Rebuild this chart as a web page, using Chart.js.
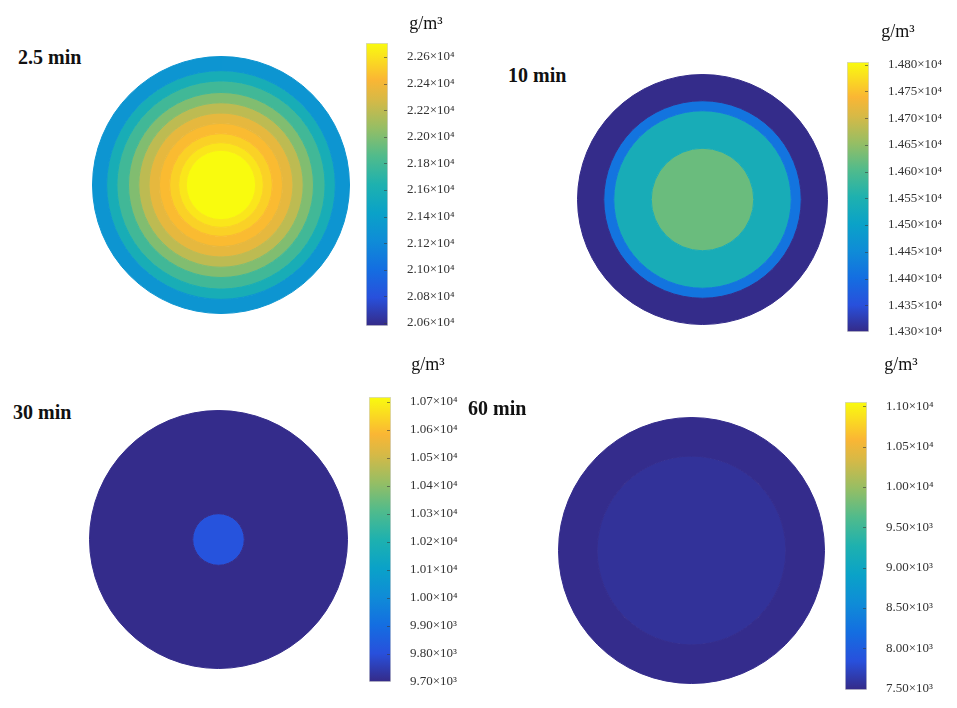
<!DOCTYPE html>
<html>
<head>
<meta charset="utf-8">
<script src="https://cdn.jsdelivr.net/npm/chart.js@4.4.0/dist/chart.umd.min.js"></script>
<style>
  body { margin: 0; background: #fff; }
  #wrap { position: relative; width: 957px; height: 708px; overflow: hidden; background: #fff; }
  #wrap canvas { position: absolute; }
  .lbl { position: absolute; font: bold 20px "Liberation Serif", "Times New Roman", serif; color: #111; line-height: 20px; white-space: nowrap; }
</style>
</head>
<body>
<div id="wrap"></div>
<script>
// ---- data ----
const timeLabels = ['2.5 min', '10 min', '30 min', '60 min'];
const unitLabel = 'g/m³';

// ring outer radius as fraction of disk radius (outer -> inner) and its concentration (g/m3)
const radii1 = [1.00, 0.89, 0.81, 0.72, 0.64, 0.56, 0.48, 0.40, 0.33, 0.27];
const conc1  = [21301, 21578, 21790, 22003, 22195, 22343, 22450, 22535, 22620, 22705];
const ticks1 = [20600, 20800, 21000, 21200, 21400, 21600, 21800, 22000, 22200, 22400, 22600];
const range1 = [20578, 22705];

const radii2 = [1.00, 0.79, 0.71, 0.41];
const conc2  = [14302, 14411, 14537, 14622];
const ticks2 = [14300, 14350, 14400, 14450, 14500, 14550, 14600, 14650, 14700, 14750, 14800];
const range2 = [14300, 14805];

const radii3 = [1.00, 0.20];
const conc3  = [9705, 9812];
const ticks3 = [9700, 9800, 9900, 10000, 10100, 10200, 10300, 10400, 10500, 10600, 10700];
const range3 = [9700, 10718];

const radii4 = [1.00, 0.71];
const conc4  = [7500, 7555];
const ticks4 = [7500, 8000, 8500, 9000, 9500, 10000, 10500, 11000];
const range4 = [7480, 11055];

// ---- layout (pixels) ----
const panels = [
  { radii: radii1, conc: conc1, ticks: ticks1, range: range1, dec: 2,
    disk: [92, 56, 258], bar: { x: 366, top: 43, bottom: 326, right: 486, titleTop: 13 }, label: [18, 57] },
  { radii: radii2, conc: conc2, ticks: ticks2, range: range2, dec: 3,
    disk: [577, 74, 251], bar: { x: 847, top: 62, bottom: 332, right: 949, titleTop: 21 }, label: [508, 75] },
  { radii: radii3, conc: conc3, ticks: ticks3, range: range3, dec: 2,
    disk: [89, 410, 259], bar: { x: 369, top: 397, bottom: 682, right: 487, titleTop: 354 }, label: [13, 412] },
  { radii: radii4, conc: conc4, ticks: ticks4, range: range4, dec: 2,
    disk: [558, 417, 267], bar: { x: 845, top: 402, bottom: 690, right: 957, titleTop: 354 }, label: [468, 408] }
];
const barWidth = 22;

// parula-like colormap
const parula = [
  [0.00, 53, 42, 135],
  [0.10, 40, 80, 220],
  [0.20, 20, 110, 225],
  [0.30, 15, 140, 215],
  [0.40, 10, 162, 200],
  [0.50, 30, 177, 175],
  [0.60, 80, 187, 140],
  [0.70, 150, 190, 100],
  [0.80, 215, 185, 70],
  [0.87, 250, 182, 52],
  [0.95, 250, 225, 30],
  [1.00, 249, 251, 14]
];
const rgb = (s) => 'rgb(' + s[1] + ',' + s[2] + ',' + s[3] + ')';
function colorAt(t) {
  t = Math.max(0, Math.min(1, t));
  for (let i = 1; i < parula.length; i++) {
    if (t <= parula[i][0]) {
      const a = parula[i - 1], b = parula[i];
      const f = (t - a[0]) / (b[0] - a[0]);
      const c = [0, 1, 2].map(k => Math.round(a[k + 1] + f * (b[k + 1] - a[k + 1])));
      return 'rgb(' + c.join(',') + ')';
    }
  }
  return rgb(parula[parula.length - 1]);
}

const sup = { 3: '³', 4: '⁴' };
function sci(v, dec) {
  const e = Math.floor(Math.log10(v) + 1e-9);
  return (v / Math.pow(10, e)).toFixed(dec) + '×10' + sup[e];
}

const serif = '"Liberation Serif", "Times New Roman", serif';
const wrap = document.getElementById('wrap');

function addCanvas(left, top, w, h) {
  const c = document.createElement('canvas');
  c.width = w; c.height = h;
  c.style.left = left + 'px'; c.style.top = top + 'px';
  c.style.width = w + 'px'; c.style.height = h + 'px';
  wrap.appendChild(c);
  return c;
}

// small tick marks inside the right edge of the colorbar
const innerTicks = {
  id: 'innerTicks',
  afterDatasetsDraw(chart) {
    const y = chart.scales.y, a = chart.chartArea, ctx = chart.ctx;
    ctx.save();
    ctx.strokeStyle = 'rgba(60,60,60,0.6)';
    ctx.lineWidth = 1;
    y.ticks.forEach(t => {
      const py = Math.round(y.getPixelForValue(t.value)) + 0.5;
      if (py < a.top + 2 || py > a.bottom - 2) return;
      ctx.beginPath();
      ctx.moveTo(a.right - 4, py);
      ctx.lineTo(a.right - 1, py);
      ctx.stroke();
    });
    ctx.restore();
  }
};

panels.forEach((p, idx) => {
  // time label
  const d = document.createElement('div');
  d.className = 'lbl';
  d.textContent = timeLabels[idx];
  d.style.left = p.label[0] + 'px';
  d.style.top = (p.label[1] - 10) + 'px';
  wrap.appendChild(d);

  // concentric disk
  const [dl, dt, ds] = p.disk;
  const span = p.range[1] - p.range[0];
  const datasets = p.radii.map((r, i) => {
    const col = colorAt((p.conc[i] - p.range[0]) / span);
    const next = i + 1 < p.radii.length ? p.radii[i + 1] : 0;
    return {
      data: [1],
      weight: r - next,
      backgroundColor: col,
      borderColor: col,
      borderWidth: 1,
      hoverOffset: 0
    };
  });
  new Chart(addCanvas(dl, dt, ds, ds), {
    type: 'pie',
    data: { labels: [''], datasets: datasets },
    options: {
      responsive: false,
      animation: false,
      events: [],
      layout: { padding: 0 },
      plugins: { legend: { display: false }, tooltip: { enabled: false } }
    }
  });

  // colorbar
  const b = p.bar;
  const axisW = b.right - b.x - barWidth;
  const titlePadBottom = b.top - b.titleTop - 18 * 1.2;
  const cw = b.right - b.x;
  const ch = b.bottom - b.titleTop + 10;
  new Chart(addCanvas(b.x, b.titleTop, cw, ch), {
    type: 'bar',
    data: {
      labels: [''],
      datasets: [{
        data: [[p.range[0], p.range[1]]],
        backgroundColor: (c) => {
          const chart = c.chart, y = chart.scales.y;
          if (!chart.chartArea || !y) return rgb(parula[0]);
          const g = chart.ctx.createLinearGradient(0, y.getPixelForValue(p.range[0]), 0, y.getPixelForValue(p.range[1]));
          parula.forEach(s => g.addColorStop(s[0], rgb(s)));
          return g;
        },
        borderColor: '#d4d4d4',
        borderWidth: 1,
        borderSkipped: false,
        categoryPercentage: 1,
        barPercentage: 1
      }]
    },
    options: {
      responsive: false,
      animation: false,
      events: [],
      layout: { padding: { bottom: 10 } },
      plugins: {
        legend: { display: false },
        tooltip: { enabled: false },
        title: {
          display: true,
          text: unitLabel,
          align: 'center',
          color: '#111',
          font: { family: serif, size: 18, weight: 'normal', lineHeight: 1.2 },
          padding: { top: 0, bottom: titlePadBottom }
        }
      },
      scales: {
        x: { display: false },
        y: {
          position: 'right',
          min: p.range[0],
          max: p.range[1],
          border: { display: false },
          grid: { display: true, drawOnChartArea: false, drawTicks: true, tickLength: 17, color: 'rgba(0,0,0,0)' },
          afterBuildTicks: (scale) => { scale.ticks = p.ticks.map(v => ({ value: v })); },
          afterFit: (scale) => { scale.width = axisW; },
          ticks: {
            autoSkip: false,
            padding: 2,
            color: '#333',
            font: { family: serif, size: 13 },
            callback: (v) => sci(v, p.dec)
          }
        }
      }
    },
    plugins: [innerTicks]
  });
});
</script>
</body>
</html>
